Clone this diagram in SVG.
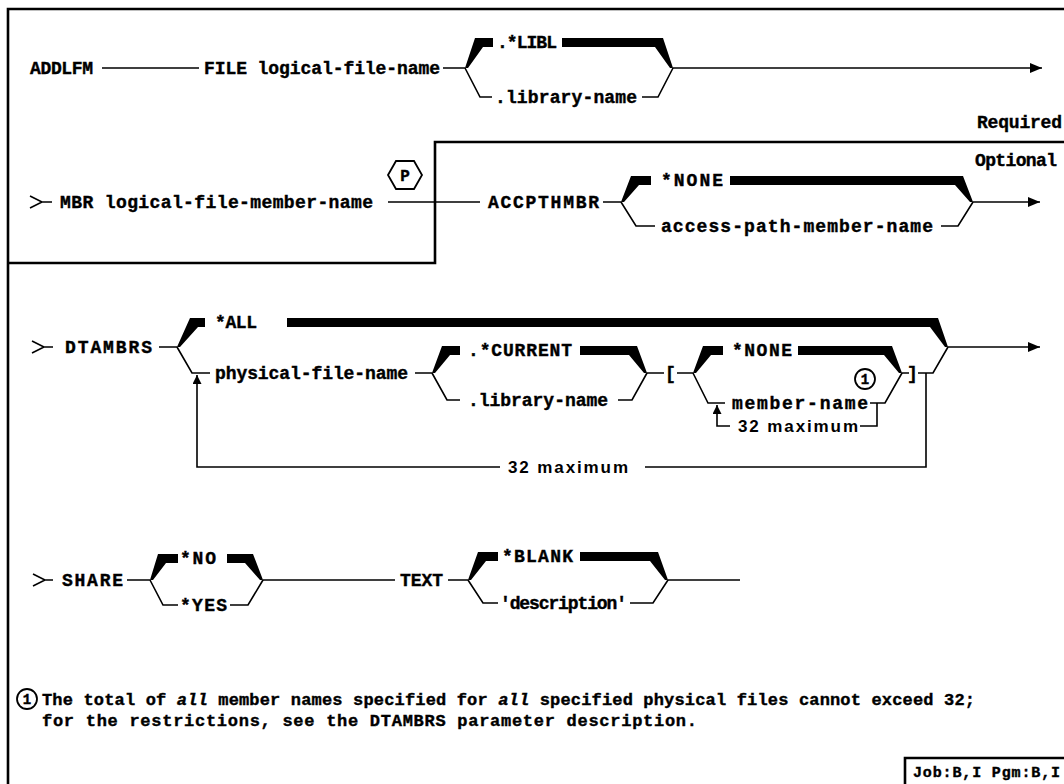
<svg xmlns="http://www.w3.org/2000/svg" width="1064" height="784" viewBox="0 0 1064 784">
<defs>
<marker id="arr" markerUnits="userSpaceOnUse" markerWidth="13" markerHeight="11" refX="12" refY="5" orient="auto"><path d="M0,0 L12,5 L0,10 Z" fill="#000"/></marker>
<marker id="arrS" markerUnits="userSpaceOnUse" markerWidth="10" markerHeight="10" refX="9" refY="4.5" orient="auto"><path d="M0,0 L9,4.5 L0,9 Z" fill="#000"/></marker>
</defs>
<style>
.t{font-family:"Liberation Mono","DejaVu Sans Mono",monospace;font-weight:bold;font-size:18px;fill:#000;stroke:#000;stroke-width:0.4px}
.s{font-family:"Liberation Sans",Arial,sans-serif;font-weight:bold;font-size:17px;fill:#000}
.ln{fill:none;stroke:#000;stroke-width:1.6}
.bd{fill:none;stroke:#000;stroke-width:2.6}
.tk{fill:#000;stroke:none}
.c{fill:none;stroke:#000;stroke-width:1.8}
</style>
<rect width="1064" height="784" fill="#fff"/>
<g id="frame">
<path class="bd" d="M8,784 V9 H1064"/>
<path class="bd" d="M8,263 H435 V142 H1064"/>
<path class="bd" d="M905,784 V758 H1064"/>
</g>
<g id="connectors">
<path class="ln" d="M102,68 H199 M443,68 H465 M465,68 L480,97 H492 M642,97 H658 L673,68"/>
<path class="ln" d="M673,68 H1042" marker-end="url(#arr)"/>
<polygon class="tk" points="465,68 475,38 493,38 493,47 483,47 468,68"/>
<polygon class="tk" points="562,38 663,38 673,68 670,68 655,47 562,47"/>
<path class="ln" d="M30,196 L42,202 L30,208 M42,202 H52"/>
<path class="ln" d="M388,202 H480 M603,202 H621 M621,202 L636,226 H655 M941,226 H958 L973,202"/>
<path class="ln" d="M973,202 H1040" marker-end="url(#arr)"/>
<polygon class="tk" points="621,202 631,176 651,176 651,185 639,185 624,202"/>
<polygon class="tk" points="730,176 963,176 973,202 970,202 955,185 730,185"/>
<path class="ln" d="M32,341 L44,347 L32,353 M44,347 H53"/>
<path class="ln" d="M159,347 H177 M177,347 L192,373 H210 M918,373 H933 L948,347"/>
<path class="ln" d="M948,347 H1040" marker-end="url(#arr)"/>
<polygon class="tk" points="177,347 190,318 205,318 205,327 198,327 180,347"/>
<polygon class="tk" points="287,318 938,318 948,347 945,347 930,327 287,327"/>
<path class="ln" d="M926,373 V467 H645"/>
<path class="ln" d="M500,467 H197 V375" marker-end="url(#arrS)"/>
<path class="ln" d="M415,373 H432 M432,373 L447,400 H460 M618,400 H632 L647,373 M647,373 H664 M677,373 H693"/>
<polygon class="tk" points="432,373 442,346 460,346 460,355 450,355 435,373"/>
<polygon class="tk" points="580,346 637,346 647,373 644,373 629,355 580,355"/>
<path class="ln" d="M693,373 L708,403 H725 M870,403 H885 L902,373 M902,373 H909 M877,403 V426 H860"/>
<path class="ln" d="M730,426 H717 V405" marker-end="url(#arrS)"/>
<polygon class="tk" points="693,373 703,346 723,346 723,355 711,355 696,373"/>
<polygon class="tk" points="798,346 892,346 902,373 899,373 884,355 798,355"/>
<path class="ln" d="M33,574 L45,580 L33,586 M45,580 H53"/>
<path class="ln" d="M127,580 H150 M150,580 L163,605 H178 M230,605 H248 L263,580 M263,580 H395"/>
<polygon class="tk" points="150,580 158,554 178,554 178,563 166,563 153,580"/>
<polygon class="tk" points="227,554 253,554 263,580 260,580 245,563 227,563"/>
<path class="ln" d="M448,580 H468 M468,580 L483,603 H498 M630,603 H653 L668,580 M668,580 H740"/>
<polygon class="tk" points="468,580 478,552 498,552 498,561 486,561 471,580"/>
<polygon class="tk" points="580,552 658,552 668,580 665,580 650,561 580,561"/>
</g>
<g id="n-addlfm"><text class="t" x="30" y="74" textLength="63">ADDLFM</text></g>
<g id="n-file"><text class="t" x="204" y="74" textLength="236">FILE logical-file-name</text></g>
<g id="n-libl"><text class="t" x="497" y="48" textLength="60">.*LIBL</text></g>
<g id="n-libname1"><text class="t" x="495" y="103" textLength="142">.library-name</text></g>
<g id="n-required"><text class="t" x="977" y="128" textLength="85">Required</text></g>
<g id="n-optional"><text class="t" x="975" y="166" textLength="82">Optional</text></g>
<g id="n-mbr"><text class="t" x="60" y="208" textLength="313">MBR logical-file-member-name</text></g>
<g id="n-p"><polygon class="c" points="388,175 396,161 414,161 422,175 414,189 396,189"/><text class="t" x="405" y="181" text-anchor="middle" style="font-size:16px">P</text></g>
<g id="n-accpthmbr"><text class="t" x="488" y="208" textLength="111">ACCPTHMBR</text></g>
<g id="n-none1"><text class="t" x="661" y="186" textLength="62">*NONE</text></g>
<g id="n-accname"><text class="t" x="661" y="232" textLength="272">access-path-member-name</text></g>
<g id="n-dtambrs"><text class="t" x="65" y="353" textLength="87">DTAMBRS</text></g>
<g id="n-all"><text class="t" x="215" y="328" textLength="42">*ALL</text></g>
<g id="n-phys"><text class="t" x="215" y="379" textLength="193">physical-file-name</text></g>
<g id="n-current"><text class="t" x="468" y="356" textLength="104">.*CURRENT</text></g>
<g id="n-libname2"><text class="t" x="468" y="406" textLength="140">.library-name</text></g>
<g id="n-lbr"><text class="t" x="665" y="379">[</text></g>
<g id="n-none2"><text class="t" x="732" y="356" textLength="60">*NONE</text></g>
<g id="n-member"><text class="t" x="732" y="409" textLength="136">member-name</text></g>
<g id="n-note1"><circle class="c" cx="865" cy="379" r="10"/><text class="t" x="865" y="384" text-anchor="middle" style="font-size:14px">1</text></g>
<g id="n-max1"><text class="s" x="738" y="432" textLength="120">32 maximum</text></g>
<g id="n-rbr"><text class="t" x="907" y="379">]</text></g>
<g id="n-max2"><text class="s" x="508" y="473" textLength="120">32 maximum</text></g>
<g id="n-share"><text class="t" x="62" y="586" textLength="61">SHARE</text></g>
<g id="n-no"><text class="t" x="180" y="564" textLength="36">*NO</text></g>
<g id="n-yes"><text class="t" x="180" y="611" textLength="47">*YES</text></g>
<g id="n-text"><text class="t" x="400" y="586" textLength="43">TEXT</text></g>
<g id="n-blank"><text class="t" x="502" y="562" textLength="71">*BLANK</text></g>
<g id="n-desc"><text class="t" x="500" y="609" textLength="127">'description'</text></g>
<g id="n-footnote">
<circle class="c" cx="27" cy="699" r="10"/><text class="t" x="27" y="704" text-anchor="middle" style="font-size:14px">1</text>
<text class="t" x="42" y="705" style="font-size:17px" textLength="933">The total of <tspan font-style="italic">all</tspan> member names specified for <tspan font-style="italic">all</tspan> specified physical files cannot exceed 32;</text>
<text class="t" x="42" y="726" textLength="655" style="font-size:17px">for the restrictions, see the DTAMBRS parameter description.</text>
</g>
<g id="n-job"><text class="t" x="913" y="777" textLength="147" style="font-size:15px">Job:B,I Pgm:B,I</text></g>
</svg>
